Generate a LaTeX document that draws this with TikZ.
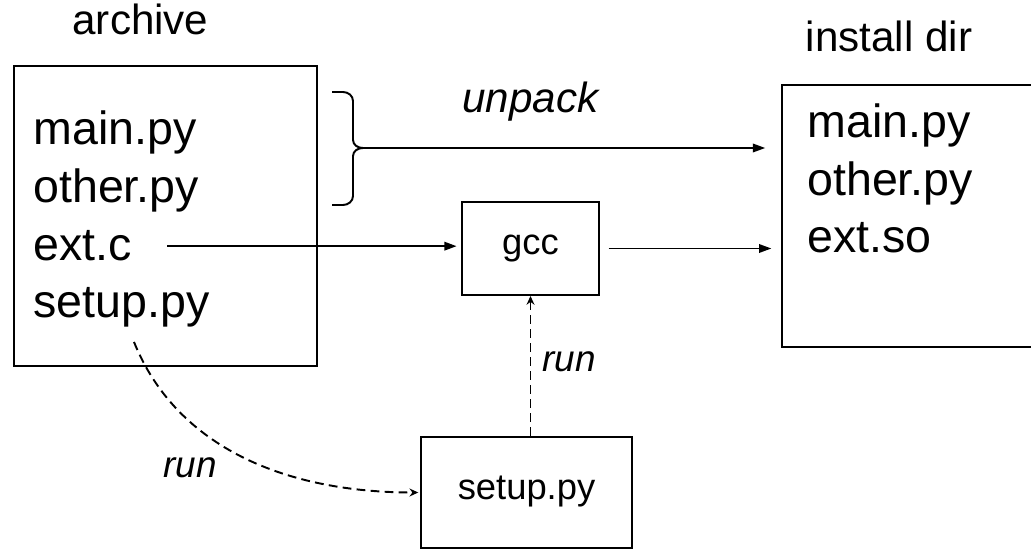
\documentclass[tikz,border=0pt]{standalone}
\usepackage{fontspec}
\setmainfont{Liberation Sans}
\usetikzlibrary{arrows.meta}

\begin{document}
\begin{tikzpicture}[x=0.02cm,y=-0.02cm]
  \tikzstyle{file}  = [anchor=base west,inner sep=0pt,font=\fontsize{26.5}{30}\selectfont]
  \tikzstyle{title} = [anchor=base,inner sep=0pt,font=\fontsize{24}{28}\selectfont]
  \tikzstyle{note}  = [anchor=base west,inner sep=0pt,font=\fontsize{21}{25}\selectfont\itshape]
  \tikzstyle{dir}   = [draw,line width=1.1pt,inner sep=0pt]
  \tikzstyle{tool}  = [draw,line width=1.1pt,inner sep=0pt,text height=0.9em,text depth=0.16em,font=\fontsize{20.7}{24}\selectfont]
  \tikzstyle{sec}   = [line width=1.1pt,-{Triangle[length=7pt,width=4.8pt]}]
  \tikzstyle{runs}  = [line width=1.1pt,dash pattern=on 5pt off 3pt,-{Stealth[length=5pt,width=4.5pt]}]
  \useasboundingbox (0,0) rectangle (1031,550);
  % source archive
  \path (140.5,35) node[title](archtitle) {archive};
  \path (165.5,216) node[dir,minimum width=6.06cm,minimum height=6cm](archive) {};
  \path (33,145) node[file](srcmain)  {main.py};
  \path (33,203) node[file](srcother) {other.py};
  \path (33,261) node[file](srcext)   {ext.c};
  \path (33,318) node[file](srcsetup) {setup.py};
  % install dir
  \path (889,52) node[title](insttitle) {install dir};
  \path (912,216) node[dir,minimum width=5.2cm,minimum height=5.24cm](install) {};
  \path (807,138) node[file](dstmain)  {main.py};
  \path (807,196) node[file](dstother) {other.py};
  \path (807,253) node[file](dstext)   {ext.so};
  % build steps
  \path (530.5,248.5) node[tool,minimum width=2.74cm,minimum height=1.86cm](gcc) {gcc};
  \path (526.5,492.5) node[tool,minimum width=4.22cm,minimum height=2.22cm](setup) {setup.py};
  % brace over the python files
  \coordinate (bracetip) at (363,148);
  \draw[line width=1.1pt] (332,92) -- (343,92) to[out=0,in=90] (353,101) -- (353,140)
    to[out=-90,in=180] (bracetip) to[out=180,in=90] (353,156) -- (353,196)
    to[out=-90,in=0] (343,205) -- (332,205);
  \draw[sec,shorten >=9pt] (bracetip) -- (bracetip -| install.west);
  \path (462,113) node[note,font=\fontsize{24}{28}\selectfont\itshape](unpack) {unpack};
  % compile
  \draw[sec,shorten <=0.7cm,shorten >=2.5pt] (srcext.east) -- (srcext.east -| gcc.west);
  \draw[sec,shorten <=5pt,shorten >=5.5pt] (gcc.east) -- (gcc.east -| install.west);
  \draw[runs] (setup.north -| gcc.south) -- (gcc.south);
  \path (542,372) node[note](rungcc) {run};
  \draw[runs,shorten <=0.3cm,shorten >=1pt] ([xshift=0.14cm]srcsetup.south) to[out=-68,in=180] (setup.west);
  \path (163,477) node[note](runsetup) {run};
\end{tikzpicture}
\end{document}
